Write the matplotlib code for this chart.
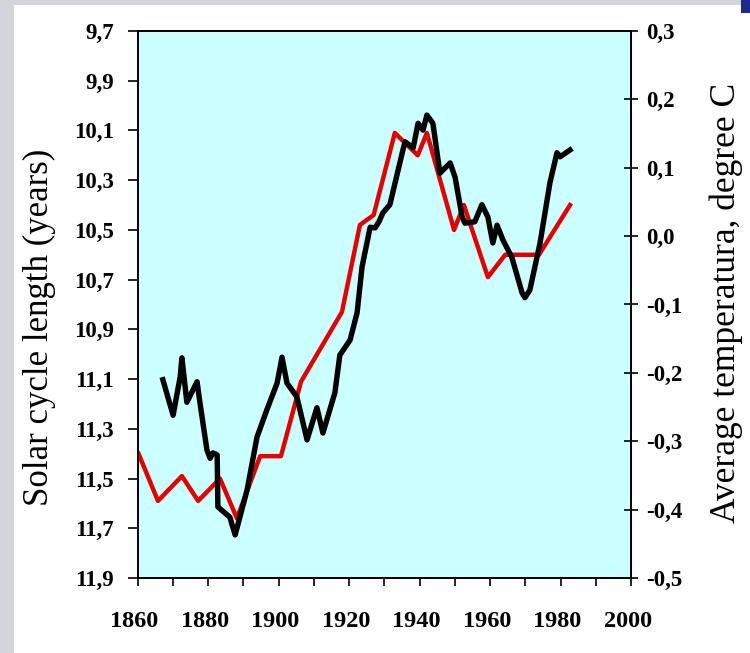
import matplotlib
matplotlib.use("Agg")
import matplotlib.pyplot as plt
from matplotlib.patches import Rectangle
from matplotlib.ticker import MultipleLocator
import matplotlib.transforms as mtransforms

# Solar cycle length (left axis, years)
red_years = [1860.3, 1865.8, 1872.6, 1877.2, 1883.4, 1888.2, 1894.8, 1900.7, 1906.4,
             1918.0, 1923.1, 1927.0, 1933.0, 1939.5, 1942.1, 1949.8, 1952.6, 1959.4,
             1964.3, 1973.9, 1982.7]
red_len = [11.40, 11.59, 11.49, 11.59, 11.50, 11.66, 11.41, 11.41, 11.11,
           10.83, 10.48, 10.44, 10.11, 10.20, 10.11, 10.50, 10.40, 10.69,
           10.60, 10.60, 10.40]

# Average temperature (right axis, degree C)
blk_years = [1867.2, 1870.1, 1872.1, 1872.6, 1874.0, 1876.9, 1877.7, 1879.7, 1880.6,
             1881.4, 1882.6, 1882.8, 1886.2, 1887.7, 1891.1, 1893.9, 1896.7, 1899.6,
             1901.0, 1902.4, 1905.2, 1908.1, 1910.9, 1912.6, 1916.0, 1917.4, 1920.3,
             1922.3, 1923.7, 1926.0, 1927.4, 1928.5, 1929.6, 1931.6, 1935.3, 1935.9,
             1938.2, 1939.6, 1941.0, 1942.1, 1943.8, 1945.8, 1946.7, 1948.7, 1950.1,
             1952.1, 1952.9, 1955.7, 1957.7, 1959.4, 1960.8, 1962.0, 1963.7, 1966.2,
             1969.1, 1969.9, 1971.3, 1974.2, 1977.0, 1979.0, 1979.9, 1982.7]
blk_temp = [-0.210, -0.262, -0.206, -0.178, -0.243, -0.213, -0.243, -0.313, -0.325,
            -0.317, -0.320, -0.396, -0.411, -0.437, -0.371, -0.294, -0.254, -0.215,
            -0.177, -0.215, -0.235, -0.298, -0.251, -0.288, -0.229, -0.174, -0.152,
            -0.112, -0.045, 0.013, 0.012, 0.021, 0.034, 0.046, 0.126, 0.138,
            0.129, 0.165, 0.155, 0.177, 0.165, 0.092, 0.097, 0.107, 0.086,
            0.028, 0.019, 0.021, 0.046, 0.028, -0.010, 0.016, -0.006, -0.031,
            -0.083, -0.090, -0.079, -0.010, 0.078, 0.122, 0.116, 0.126]

x_ticks = [1860, 1880, 1900, 1920, 1940, 1960, 1980, 2000]
left_ticks = [9.7, 9.9, 10.1, 10.3, 10.5, 10.7, 10.9, 11.1, 11.3, 11.5, 11.7, 11.9]
right_ticks = [0.3, 0.2, 0.1, 0.0, -0.1, -0.2, -0.3, -0.4, -0.5]

def comma(v):
    return f"{v:.1f}".replace(".", ",")

W, H = 750, 653
fig = plt.figure(figsize=(W / 100, H / 100), dpi=100, facecolor="white")

# page decoration
fig.patches.append(Rectangle((0, 0), 14 / W, 1, transform=fig.transFigure,
                             facecolor="#d4d4dc", edgecolor="none", zorder=0))
fig.patches.append(Rectangle((0, 1 - 5 / H), 1, 5 / H, transform=fig.transFigure,
                             facecolor="#d4d4dc", edgecolor="none", zorder=0))
fig.patches.append(Rectangle((741 / W, 1 - 13 / H), 9 / W, 13 / H, transform=fig.transFigure,
                             facecolor="#1c2a8c", edgecolor="none", zorder=1))

left, right, top, bottom = 137.5, 631, 31, 578
ax = fig.add_axes([left / W, 1 - bottom / H, (right - left) / W, (bottom - top) / H])
ax.set_facecolor("#ccffff")
ax2 = ax.twinx()

serif = "Liberation Serif"
xfont = dict(family=serif, weight="bold", size=17.5)
yfont = dict(family=serif, weight="bold", size=16.5)

ax.plot(red_years, red_len, color="#e80000", lw=3.2, solid_joinstyle="round", zorder=3)
ax.set_ylim(11.9, 9.7)
ax.set_xlim(1860, 2000)

ax2.plot(blk_years, blk_temp, color="black", lw=3.9, solid_joinstyle="round", zorder=4)
ax2.set_ylim(-0.5, 0.3)

ax.set_xticks(x_ticks)
ax.set_xticklabels([str(v) for v in x_ticks], **xfont)
ax.xaxis.set_minor_locator(MultipleLocator(10))
ax.tick_params(axis="x", which="both", direction="out", length=6, width=1.2, pad=18)
shift = mtransforms.ScaledTranslation(-3 / 100, 0, fig.dpi_scale_trans)
for lab in ax.get_xticklabels():
    lab.set_transform(lab.get_transform() + shift)

ax.set_yticks(left_ticks)
ax.set_yticklabels([comma(v) for v in left_ticks], **yfont)
ax.tick_params(axis="y", direction="out", length=7, width=1.2, pad=10)

ax2.set_yticks(right_ticks)
ax2.set_yticklabels([comma(v) for v in right_ticks], **yfont)
ax2.tick_params(axis="y", direction="inout", length=10, width=1.2, pad=6)

for a in (ax, ax2):
    for s in a.spines.values():
        s.set_linewidth(1.3)
        s.set_color("black")

fig.text(39 / W, 1 - 327 / H, "Solar cycle length (years)", rotation=90,
         ha="center", va="center", family=serif, size=25)
fig.text(726 / W, 1 - 303 / H, "Average temperatura, degree C", rotation=90,
         ha="center", va="center", family=serif, size=25.5)

fig.savefig("out.png", dpi=100, facecolor=fig.get_facecolor())
